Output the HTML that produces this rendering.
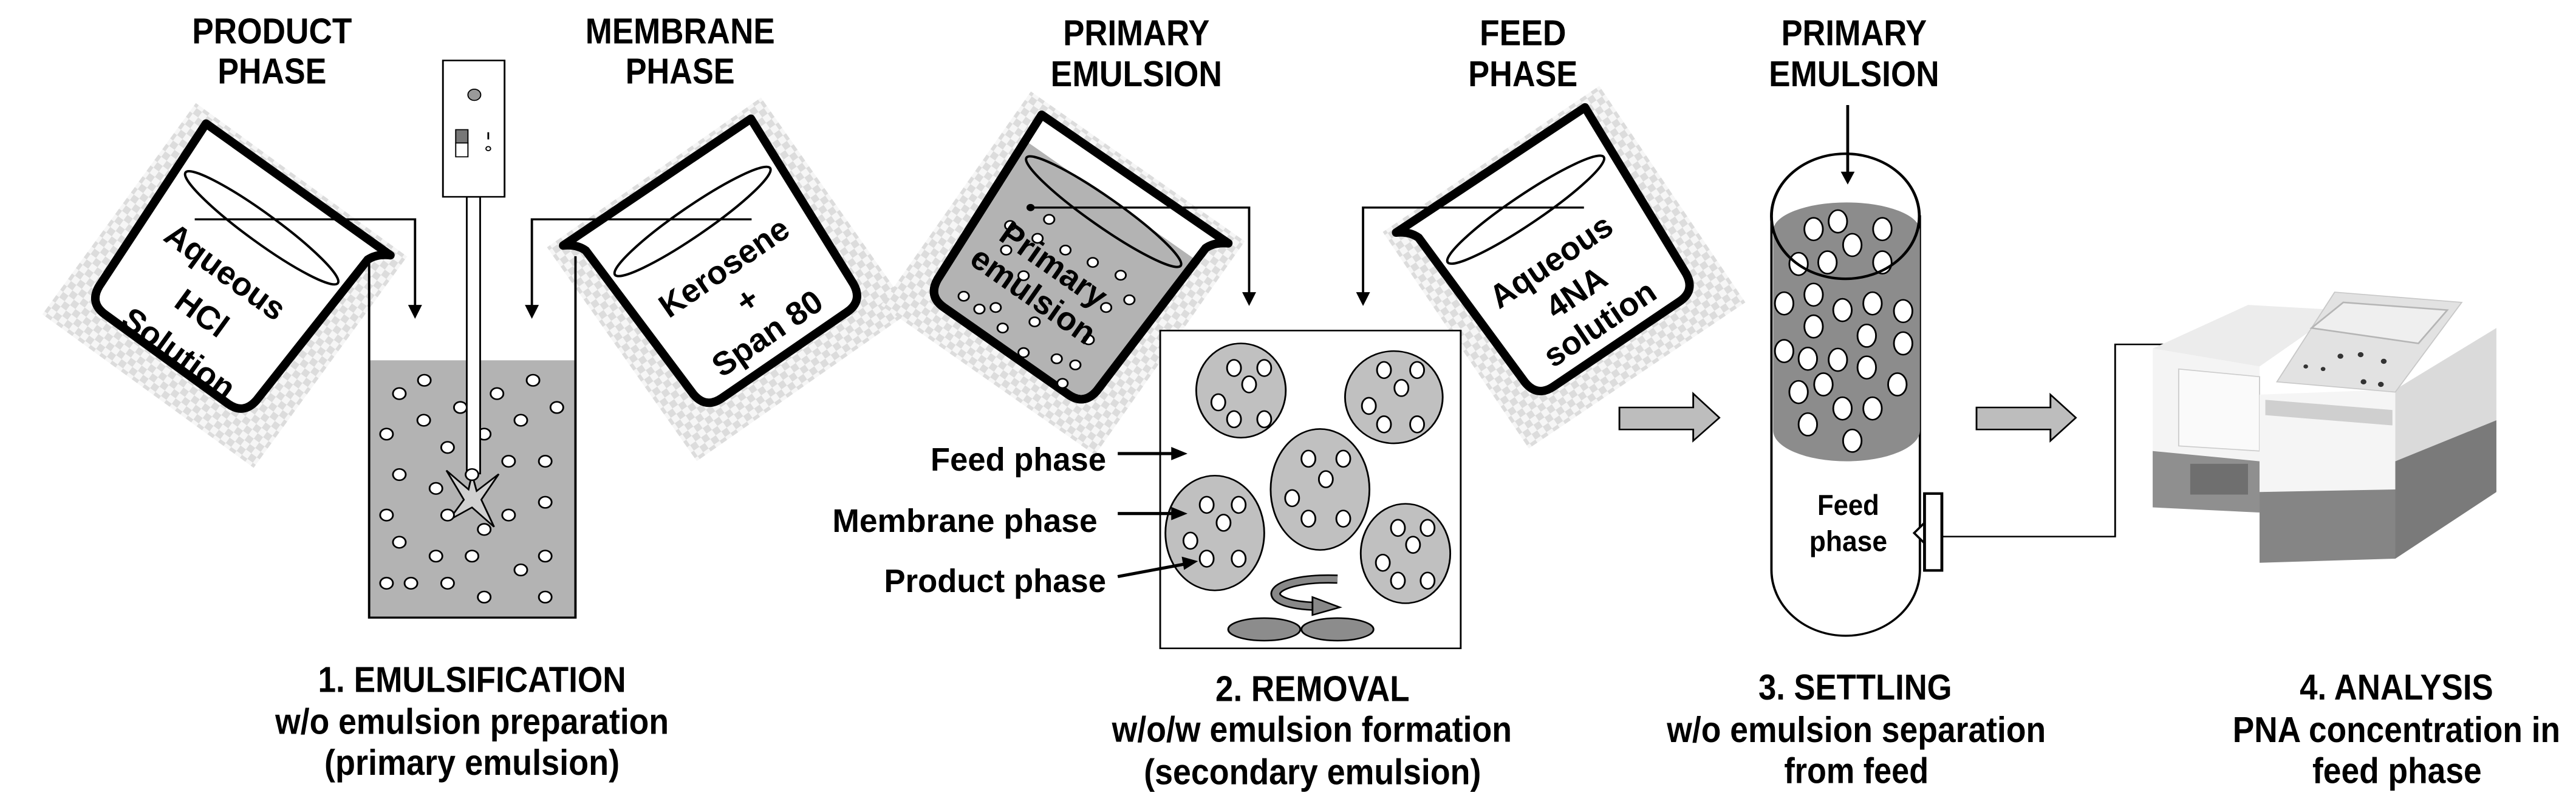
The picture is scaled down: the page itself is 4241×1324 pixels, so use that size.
<!DOCTYPE html>
<html><head><meta charset="utf-8"><style>
html,body{margin:0;padding:0;background:#fff;width:4241px;height:1324px;overflow:hidden}
svg{position:absolute;left:0;top:0}
text{font-family:"Liberation Sans",Arial,sans-serif;font-weight:bold;fill:#000}
</style></head><body>
<svg width="4241" height="1324" viewBox="0 0 4241 1324" xmlns="http://www.w3.org/2000/svg">
<defs>
<pattern id="chk" width="22" height="22" patternUnits="userSpaceOnUse">
<rect width="22" height="22" fill="#f6f6f6"/><rect width="11" height="11" fill="#dcdcdc"/><rect x="11" y="11" width="11" height="11" fill="#dcdcdc"/>
</pattern>
<path id="bk" d="M-175,-180 L-160,140 Q-157,172 -125,172 L125,172 Q157,172 160,140 L172,-155 Q178,-172 198,-183 Z"/>
</defs>
<rect width="4241" height="1324" fill="#fff"/>
<!-- patches -->
<rect x="-215" y="-215" width="430" height="430" fill="url(#chk)" transform="translate(370,470) rotate(36)"/>
<rect x="-215" y="-215" width="430" height="430" fill="url(#chk)" transform="translate(1200,460) rotate(-35)"/>
<rect x="-215" y="-215" width="430" height="430" fill="url(#chk)" transform="translate(1750,450) rotate(35)"/>
<rect x="-215" y="-215" width="430" height="430" fill="url(#chk)" transform="translate(2575,440) rotate(-34)"/>

<!-- beakers (absolute) -->
<g transform="translate(375,452) rotate(36)">
<use href="#bk" fill="#fff" stroke="#000" stroke-width="14" stroke-linejoin="round"/>
<ellipse cx="0" cy="-95" rx="155" ry="24" fill="none" stroke="#000" stroke-width="4"/>
<text x="-6" y="17" font-size="54" text-anchor="middle">Aqueous</text>
<text x="3" y="95" font-size="54" text-anchor="middle">HCl</text>
<text x="11" y="171" font-size="54" text-anchor="middle">Solution</text>
</g>
<g transform="translate(1194,443) rotate(-34.5)">
<use href="#bk" transform="scale(-1,1)" fill="#fff" stroke="#000" stroke-width="14" stroke-linejoin="round"/>
<ellipse cx="0" cy="-95" rx="155" ry="24" fill="none" stroke="#000" stroke-width="4"/>
<text x="0" y="15" font-size="54" text-anchor="middle">Kerosene</text>
<text x="1" y="81" font-size="54" text-anchor="middle">+</text>
<text x="-3" y="145" font-size="54" text-anchor="middle">Span 80</text>
</g>
<g transform="translate(1755,437) rotate(35)">
<use href="#bk" fill="#b3b3b3" stroke="#000" stroke-width="14" stroke-linejoin="round"/>
<path d="M-172,-130 L168,-130 L172,-155 Q178,-172 198,-183 L-175,-180 Z" fill="#fff"/>
<use href="#bk" fill="none" stroke="#000" stroke-width="14" stroke-linejoin="round"/>
<ellipse cx="0" cy="-108" rx="155" ry="24" fill="none" stroke="#000" stroke-width="4"/>
</g>
<g transform="translate(2565,424) rotate(-34)">
<use href="#bk" transform="scale(-1,1)" fill="#fff" stroke="#000" stroke-width="14" stroke-linejoin="round"/>
<ellipse cx="0" cy="-95" rx="155" ry="24" fill="none" stroke="#000" stroke-width="4"/>
<text x="-13" y="17" font-size="54" text-anchor="middle">Aqueous</text>
<text x="-7" y="83" font-size="54" text-anchor="middle">4NA</text>
<text x="-4" y="147" font-size="54" text-anchor="middle">solution</text>
</g>

<!-- GROUP 1 -->
<g transform="scale(.957,.844)">
<text x="468" y="85" font-size="70" text-anchor="middle" textLength="275" lengthAdjust="spacingAndGlyphs">PRODUCT</text>
<text x="468" y="163" font-size="70" text-anchor="middle" textLength="187" lengthAdjust="spacingAndGlyphs">PHASE</text>
<text x="1170" y="85" font-size="70" text-anchor="middle" textLength="326" lengthAdjust="spacingAndGlyphs">MEMBRANE</text>
<text x="1170" y="163" font-size="70" text-anchor="middle" textLength="188" lengthAdjust="spacingAndGlyphs">PHASE</text>
<polyline points="335,428 714,428 714,600" fill="none" stroke="#000" stroke-width="4"/>
<polygon points="702,595 726,595 714,622" fill="#000"/>
<polyline points="1293,428 915,428 915,600" fill="none" stroke="#000" stroke-width="4"/>
<polygon points="903,595 927,595 915,622" fill="#000"/>
<rect x="635" y="703" width="355" height="502" fill="#b3b3b3"/>
<polyline points="635,500 635,1205 990,1205 990,500" fill="none" stroke="#000" stroke-width="4"/>
<g fill="#fff" stroke="#000" stroke-width="3">
<circle cx="730" cy="742" r="11"/><circle cx="687" cy="768" r="11"/><circle cx="917" cy="742" r="11"/><circle cx="855" cy="768" r="11"/><circle cx="958" cy="795" r="11"/><circle cx="792" cy="795" r="11"/><circle cx="729" cy="820" r="11"/><circle cx="896" cy="820" r="11"/><circle cx="665" cy="847" r="11"/><circle cx="833" cy="847" r="11"/><circle cx="770" cy="873" r="11"/><circle cx="875" cy="900" r="11"/><circle cx="938" cy="900" r="11"/><circle cx="687" cy="926" r="11"/><circle cx="750" cy="953" r="11"/><circle cx="938" cy="980" r="11"/><circle cx="665" cy="1005" r="11"/><circle cx="875" cy="1005" r="11"/><circle cx="687" cy="1058" r="11"/><circle cx="750" cy="1085" r="11"/><circle cx="812" cy="1085" r="11"/><circle cx="938" cy="1085" r="11"/><circle cx="896" cy="1112" r="11"/><circle cx="665" cy="1138" r="11"/><circle cx="707" cy="1138" r="11"/><circle cx="770" cy="1138" r="11"/><circle cx="833" cy="1165" r="11"/><circle cx="938" cy="1165" r="11"/>
</g>
<rect x="803" y="384" width="23" height="540" fill="#fff" stroke="#000" stroke-width="3"/>
<polygon points="768,918 806,955 812,925 820,958 858,925 828,975 850,1028 812,990 772,1015 798,975" fill="#d0d0d0" stroke="#000" stroke-width="3"/>
<g fill="#fff" stroke="#000" stroke-width="3"><circle cx="812" cy="926" r="11"/><circle cx="770" cy="1005" r="11"/><circle cx="833" cy="1033" r="11"/></g>
<rect x="762" y="118" width="106" height="266" fill="#fff" stroke="#000" stroke-width="3"/>
<circle cx="816" cy="185" r="11" fill="#999" stroke="#000" stroke-width="2"/>
<rect x="784" y="253" width="21" height="26" fill="#777" stroke="#000" stroke-width="2"/>
<rect x="784" y="279" width="21" height="27" fill="#fff" stroke="#000" stroke-width="2"/>
<line x1="840" y1="258" x2="840" y2="272" stroke="#000" stroke-width="3"/>
<circle cx="840" cy="290" r="4" fill="none" stroke="#000" stroke-width="2"/>
<text x="812" y="1350" font-size="70" text-anchor="middle" textLength="530" lengthAdjust="spacingAndGlyphs">1. EMULSIFICATION</text>
<text x="812" y="1432" font-size="70" text-anchor="middle" textLength="677" lengthAdjust="spacingAndGlyphs">w/o emulsion preparation</text>
<text x="812" y="1512" font-size="70" text-anchor="middle" textLength="508" lengthAdjust="spacingAndGlyphs">(primary emulsion)</text>
</g>

<!-- GROUP 2 -->
<g transform="translate(1400,0) scale(.957,.844)">
<text x="492" y="88" font-size="70" text-anchor="middle" textLength="252" lengthAdjust="spacingAndGlyphs">PRIMARY</text>
<text x="492" y="168" font-size="70" text-anchor="middle" textLength="295" lengthAdjust="spacingAndGlyphs">EMULSION</text>
<text x="1157" y="88" font-size="70" text-anchor="middle" textLength="149" lengthAdjust="spacingAndGlyphs">FEED</text>
<text x="1157" y="168" font-size="70" text-anchor="middle" textLength="188" lengthAdjust="spacingAndGlyphs">PHASE</text>
<g fill="#fff" stroke="#000" stroke-width="3">
<circle cx="342" cy="428" r="9"/><circle cx="322" cy="465" r="9"/><circle cx="370" cy="488" r="9"/><circle cx="268" cy="488" r="9"/><circle cx="298" cy="538" r="9"/><circle cx="417" cy="512" r="9"/><circle cx="465" cy="537" r="9"/><circle cx="250" cy="600" r="9"/><circle cx="222" cy="603" r="9"/><circle cx="195" cy="578" r="9"/><circle cx="262" cy="640" r="9"/><circle cx="317" cy="628" r="9"/><circle cx="410" cy="663" r="9"/><circle cx="355" cy="700" r="9"/><circle cx="298" cy="688" r="9"/><circle cx="387" cy="712" r="9"/><circle cx="365" cy="748" r="9"/><circle cx="480" cy="585" r="9"/><circle cx="440" cy="600" r="9"/><circle cx="275" cy="440" r="9"/>
</g>
<circle cx="310" cy="405" r="7" fill="#000"/>
<polyline points="310,405 686,405 686,575" fill="none" stroke="#000" stroke-width="4"/>
<polygon points="674,570 698,570 686,597" fill="#000"/>
<polyline points="1262,405 882,405 882,575" fill="none" stroke="#000" stroke-width="4"/>
<polygon points="870,570 894,570 882,597" fill="#000"/>
<rect x="533" y="645" width="517" height="620" fill="#fff" stroke="#000" stroke-width="3"/>
<g fill="#c0c0c0" stroke="#000" stroke-width="3">
<ellipse cx="672" cy="762" rx="77" ry="92"/><ellipse cx="935" cy="775" rx="84" ry="90"/><ellipse cx="808" cy="955" rx="85" ry="118"/><ellipse cx="627" cy="1040" rx="85" ry="112"/><ellipse cx="955" cy="1080" rx="77" ry="97"/>
</g>
<g fill="#fff" stroke="#000" stroke-width="3">
<ellipse cx="660" cy="718" rx="12" ry="16"/><ellipse cx="712" cy="718" rx="12" ry="16"/><ellipse cx="686" cy="750" rx="12" ry="16"/><ellipse cx="633" cy="785" rx="12" ry="16"/><ellipse cx="660" cy="818" rx="12" ry="16"/><ellipse cx="712" cy="818" rx="12" ry="16"/>
<ellipse cx="918" cy="722" rx="12" ry="16"/><ellipse cx="975" cy="722" rx="12" ry="16"/><ellipse cx="948" cy="757" rx="12" ry="16"/><ellipse cx="892" cy="792" rx="12" ry="16"/><ellipse cx="918" cy="828" rx="12" ry="16"/><ellipse cx="975" cy="828" rx="12" ry="16"/>
<ellipse cx="788" cy="895" rx="12" ry="16"/><ellipse cx="848" cy="895" rx="12" ry="16"/><ellipse cx="818" cy="935" rx="12" ry="16"/><ellipse cx="760" cy="972" rx="12" ry="16"/><ellipse cx="788" cy="1012" rx="12" ry="16"/><ellipse cx="848" cy="1012" rx="12" ry="16"/>
<ellipse cx="613" cy="985" rx="12" ry="16"/><ellipse cx="668" cy="985" rx="12" ry="16"/><ellipse cx="642" cy="1020" rx="12" ry="16"/><ellipse cx="585" cy="1055" rx="12" ry="16"/><ellipse cx="613" cy="1090" rx="12" ry="16"/><ellipse cx="668" cy="1090" rx="12" ry="16"/>
<ellipse cx="942" cy="1030" rx="12" ry="16"/><ellipse cx="993" cy="1030" rx="12" ry="16"/><ellipse cx="968" cy="1063" rx="12" ry="16"/><ellipse cx="916" cy="1098" rx="12" ry="16"/><ellipse cx="942" cy="1133" rx="12" ry="16"/><ellipse cx="993" cy="1133" rx="12" ry="16"/>
</g>
<path d="M838,1130 C720,1125 690,1178 800,1183" fill="none" stroke="#000" stroke-width="18"/>
<path d="M838,1130 C720,1125 690,1178 800,1183" fill="none" stroke="#888" stroke-width="12"/>
<polygon points="795,1165 842,1185 795,1200" fill="#888" stroke="#000" stroke-width="3"/>
<ellipse cx="712" cy="1228" rx="62" ry="22" fill="#8c8c8c" stroke="#000" stroke-width="3"/>
<ellipse cx="838" cy="1228" rx="62" ry="22" fill="#8c8c8c" stroke="#000" stroke-width="3"/>
<text x="440" y="918" font-size="64" text-anchor="end" textLength="302" lengthAdjust="spacingAndGlyphs">Feed phase</text>
<text x="425" y="1038" font-size="64" text-anchor="end" textLength="456" lengthAdjust="spacingAndGlyphs">Membrane phase</text>
<text x="440" y="1155" font-size="64" text-anchor="end" textLength="382" lengthAdjust="spacingAndGlyphs">Product phase</text>
<g stroke="#000" stroke-width="6"><line x1="460" y1="885" x2="560" y2="885"/><line x1="460" y1="1002" x2="560" y2="1002"/><line x1="460" y1="1125" x2="578" y2="1100"/></g>
<polygon points="552,872 580,885 552,898" fill="#000"/>
<polygon points="552,989 580,1002 552,1015" fill="#000"/>
<polygon points="570,1086 598,1095 574,1112" fill="#000"/>
<polygon points="1323,795 1450,795 1450,768 1495,815 1450,860 1450,838 1323,838" fill="#bdbdbd" stroke="#000" stroke-width="3"/>
<text x="795" y="1368" font-size="70" text-anchor="middle" textLength="334" lengthAdjust="spacingAndGlyphs">2. REMOVAL</text>
<text x="794" y="1447" font-size="70" text-anchor="middle" textLength="688" lengthAdjust="spacingAndGlyphs">w/o/w emulsion formation</text>
<text x="795" y="1530" font-size="70" text-anchor="middle" textLength="580" lengthAdjust="spacingAndGlyphs">(secondary emulsion)</text>
</g>
<g transform="translate(1729,462) rotate(35)">
<text x="-10" y="-6" font-size="54" text-anchor="middle" fill="#111">Primary</text>
<text x="-9" y="54" font-size="54" text-anchor="middle" fill="#111">emulsion</text>
</g>

<!-- GROUP 3 -->
<g transform="translate(2750,0) scale(.951,.844)">
<text x="318" y="88" font-size="70" text-anchor="middle" textLength="252" lengthAdjust="spacingAndGlyphs">PRIMARY</text>
<text x="318" y="168" font-size="70" text-anchor="middle" textLength="295" lengthAdjust="spacingAndGlyphs">EMULSION</text>
<line x1="307" y1="205" x2="307" y2="340" stroke="#000" stroke-width="5"/>
<polygon points="295,335 319,335 307,360" fill="#000"/>
<path d="M175,420 L175,1112 A128,128 0 0 0 432,1112 L432,420" fill="#fff" stroke="#000" stroke-width="4"/>
<path d="M178,450 A127,55 0 0 1 432,450 L432,840 A127,60 0 0 1 178,840 Z" fill="#8c8c8c"/>
<g fill="#fff" stroke="#000" stroke-width="3">
<ellipse cx="248" cy="447" rx="16" ry="22"/><ellipse cx="290" cy="432" rx="16" ry="22"/><ellipse cx="367" cy="447" rx="16" ry="22"/><ellipse cx="315" cy="478" rx="16" ry="22"/><ellipse cx="222" cy="515" rx="16" ry="22"/><ellipse cx="272" cy="512" rx="16" ry="22"/><ellipse cx="367" cy="512" rx="16" ry="22"/><ellipse cx="197" cy="592" rx="16" ry="22"/><ellipse cx="248" cy="575" rx="16" ry="22"/><ellipse cx="298" cy="605" rx="16" ry="22"/><ellipse cx="350" cy="592" rx="16" ry="22"/><ellipse cx="403" cy="607" rx="16" ry="22"/><ellipse cx="248" cy="637" rx="16" ry="22"/><ellipse cx="340" cy="655" rx="16" ry="22"/><ellipse cx="403" cy="670" rx="16" ry="22"/><ellipse cx="197" cy="685" rx="16" ry="22"/><ellipse cx="238" cy="700" rx="16" ry="22"/><ellipse cx="290" cy="702" rx="16" ry="22"/><ellipse cx="340" cy="717" rx="16" ry="22"/><ellipse cx="393" cy="750" rx="16" ry="22"/><ellipse cx="222" cy="765" rx="16" ry="22"/><ellipse cx="265" cy="750" rx="16" ry="22"/><ellipse cx="298" cy="797" rx="16" ry="22"/><ellipse cx="350" cy="797" rx="16" ry="22"/><ellipse cx="238" cy="828" rx="16" ry="22"/><ellipse cx="315" cy="860" rx="16" ry="22"/>
</g>
<ellipse cx="303" cy="422" rx="128" ry="122" fill="none" stroke="#000" stroke-width="5"/>
<text x="308" y="1005" font-size="56" text-anchor="middle" textLength="107" lengthAdjust="spacingAndGlyphs">Feed</text>
<text x="308" y="1075" font-size="56" text-anchor="middle" textLength="135" lengthAdjust="spacingAndGlyphs">phase</text>
<polygon points="440,1020 422,1040 440,1060" fill="#fff" stroke="#000" stroke-width="4"/>
<rect x="440" y="963" width="30" height="150" fill="#fff" stroke="#000" stroke-width="5"/>
<polyline points="470,1047 770,1047 770,672 985,672" fill="none" stroke="#000" stroke-width="3"/>
<polyline points="962,657 985,672 962,687" fill="none" stroke="#000" stroke-width="3"/>
<polygon points="530,795 658,795 658,770 702,815 658,860 658,838 530,838" fill="#bdbdbd" stroke="#000" stroke-width="3"/>
<polygon points="835,680 1000,595 1160,605 1020,715" fill="#ececec"/>
<polygon points="835,680 1020,715 1020,1000 835,990" fill="#f4f4f4"/>
<polygon points="835,880 1020,900 1020,1000 835,990" fill="#8f8f8f"/>
<polygon points="880,720 1020,735 1020,880 880,870" fill="#fafafa" stroke="#ccc" stroke-width="2"/>
<rect x="900" y="905" width="100" height="60" fill="#6f6f6f"/>
<polygon points="1255,760 1430,640 1430,960 1255,1090" fill="#dadada"/>
<polygon points="1255,900 1430,820 1430,960 1255,1090" fill="#7a7a7a"/>
<polygon points="1020,770 1255,760 1255,1090 1020,1098" fill="#f5f5f5"/>
<polygon points="1020,960 1255,955 1255,1090 1020,1098" fill="#858585"/>
<polygon points="1030,780 1250,800 1250,830 1030,810" fill="#cfcfcf"/>
<polygon points="1050,745 1150,570 1370,590 1255,765" fill="#e2e2e2" stroke="#c8c8c8" stroke-width="2"/>
<polygon points="1110,640 1165,590 1345,605 1295,670" fill="#efefef" stroke="#b5b5b5" stroke-width="3"/>
<g fill="#333"><circle cx="1160" cy="695" r="5"/><circle cx="1195" cy="692" r="5"/><circle cx="1235" cy="705" r="5"/><circle cx="1200" cy="745" r="5"/><circle cx="1230" cy="750" r="5"/><circle cx="1100" cy="715" r="4"/><circle cx="1130" cy="720" r="4"/></g>
<text x="320" y="1365" font-size="70" text-anchor="middle" textLength="335" lengthAdjust="spacingAndGlyphs">3. SETTLING</text>
<text x="322" y="1448" font-size="70" text-anchor="middle" textLength="656" lengthAdjust="spacingAndGlyphs">w/o emulsion separation</text>
<text x="322" y="1528" font-size="70" text-anchor="middle" textLength="250" lengthAdjust="spacingAndGlyphs">from feed</text>
<text x="1257" y="1365" font-size="70" text-anchor="middle" textLength="335" lengthAdjust="spacingAndGlyphs">4. ANALYSIS</text>
<text x="1257" y="1448" font-size="70" text-anchor="middle" textLength="567" lengthAdjust="spacingAndGlyphs">PNA concentration in</text>
<text x="1258" y="1528" font-size="70" text-anchor="middle" textLength="293" lengthAdjust="spacingAndGlyphs">feed phase</text>
</g>
</svg>
</body></html>
